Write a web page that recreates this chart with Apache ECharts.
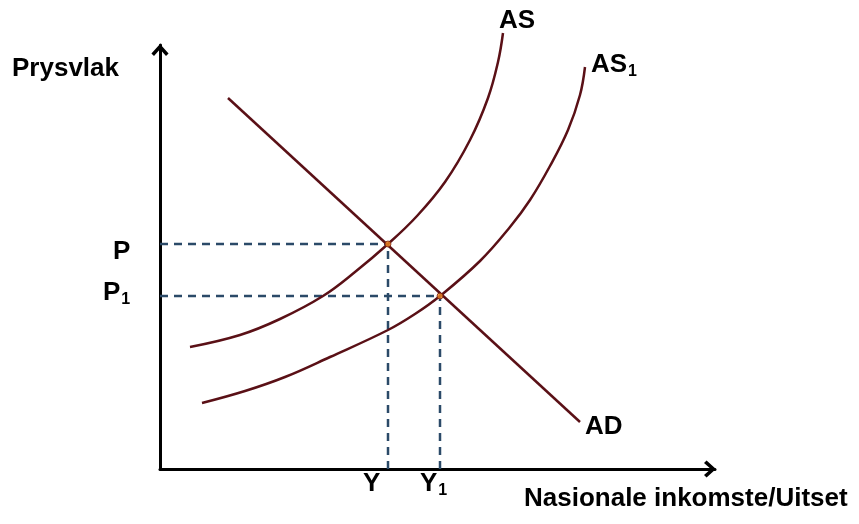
<!DOCTYPE html>
<html>
<head>
<meta charset="utf-8">
<title>AS AD</title>
<script src="https://cdn.jsdelivr.net/npm/echarts@6/dist/echarts.min.js"></script>
<style>
html, body { margin:0; height:100%; background:#fff; }
</style>
</head>
<body>
<div id="main" style="width:859px;height:524px;"></div>
<script>
// points (x = income, y = price level, in axis units)
var asCurve  = [[30,122],[80,134],[120,150],[163,173],[195,197],[228,225],[257,253],[285,287],[310,329],[328,371],[338,407],[343,436]];
var as1Curve = [[42,66],[85,78],[125,92],[170,112],[228,139],[255,155],[280,173],[320,208],[350,242],[370,269],[390,303],[408,339],[420,374],[425,402]];
var adLine   = [[68,371],[420,47]];
var eqPoints = [[228,225],[280,173]];
var priceTicks = ['P', 'P1'];
var incomeTicks = ['Y', 'Y1'];

var FONT = 'Liberation Sans, Arial, sans-serif';
function label(x, y, s) {
    return { type:'text', left:x, top:y, style:{ text:s, fontFamily:FONT, fontWeight:'bold', fontSize:26, fill:'#000' } };
}
// label with a subscript, e.g. AS1 -> AS + small 1
function subLabel(x, y, s) {
    var base = s.slice(0, -1), sub = s.slice(-1);
    return { type:'text', left:x, top:y, style:{
        text:'{b|' + base + '}{s|' + sub + '}', fontFamily:FONT, fontWeight:'bold', fontSize:26, fill:'#000',
        rich:{ b:{ fontFamily:FONT, fontWeight:'bold', fontSize:26, fill:'#000' },
               s:{ fontFamily:FONT, fontWeight:'bold', fontSize:16, fill:'#000', padding:[14,0,0,1] } }
    } };
}

var chevron = 'path://M0,11 L10,0 L20,11 L17,14 L10,6 L3,14 Z';
var dashStyle = { color:'#2b4a68', width:2.5, type:[8,6] };
var curveStyle = { color:'#5a1016', width:2.5 };

var myChart = echarts.init(document.getElementById('main'));
var option = {
    animation:false,
    grid:{ left:160, top:45, right:144, bottom:55 },
    xAxis:{
        type:'value', min:0, max:555,
        splitLine:{ show:false }, axisTick:{ show:false }, axisLabel:{ show:false },
        axisLine:{ lineStyle:{ color:'#000', width:3 }, symbol:['none', chevron], symbolSize:[18,12], symbolOffset:[0,-5] }
    },
    yAxis:{
        type:'value', min:0, max:424,
        splitLine:{ show:false }, axisTick:{ show:false }, axisLabel:{ show:false },
        axisLine:{ onZero:false, lineStyle:{ color:'#000', width:3 }, symbol:['none', chevron], symbolSize:[18,12], symbolOffset:[0,-5] }
    },
    series:[
        { type:'line', data:[[0,eqPoints[0][1]],eqPoints[0]], symbol:'none', lineStyle:dashStyle, z:1 },
        { type:'line', data:[[eqPoints[0][0],0],eqPoints[0]], symbol:'none', lineStyle:dashStyle, z:1 },
        { type:'line', data:[[0,eqPoints[1][1]],eqPoints[1]], symbol:'none', lineStyle:dashStyle, z:1 },
        { type:'line', data:[[eqPoints[1][0],0],eqPoints[1]], symbol:'none', lineStyle:dashStyle, z:1 },
        { name:'AS', type:'line', data:asCurve, smooth:0.4, symbol:'none', clip:false, lineStyle:curveStyle, z:3 },
        { name:'AS1', type:'line', data:as1Curve, smooth:0.4, symbol:'none', clip:false, lineStyle:curveStyle, z:3 },
        { name:'AD', type:'line', data:adLine, symbol:'none', lineStyle:curveStyle, z:3 },
        { type:'scatter', data:eqPoints, symbolSize:6, itemStyle:{ color:'#f08a24', borderColor:'#7a2010', borderWidth:1 }, z:4 }
    ],
    graphic:[
        label(12, 56, 'Prysvlak'),
        label(524, 486, 'Nasionale inkomste/Uitset'),
        label(499, 8, 'AS'),
        subLabel(591, 52, 'AS1'),
        label(585, 414, 'AD'),
        label(113, 239, priceTicks[0]),
        subLabel(103, 280, priceTicks[1]),
        label(363, 471, incomeTicks[0]),
        subLabel(420, 471, incomeTicks[1])
    ]
};
myChart.setOption(option);
</script>
</body>
</html>
